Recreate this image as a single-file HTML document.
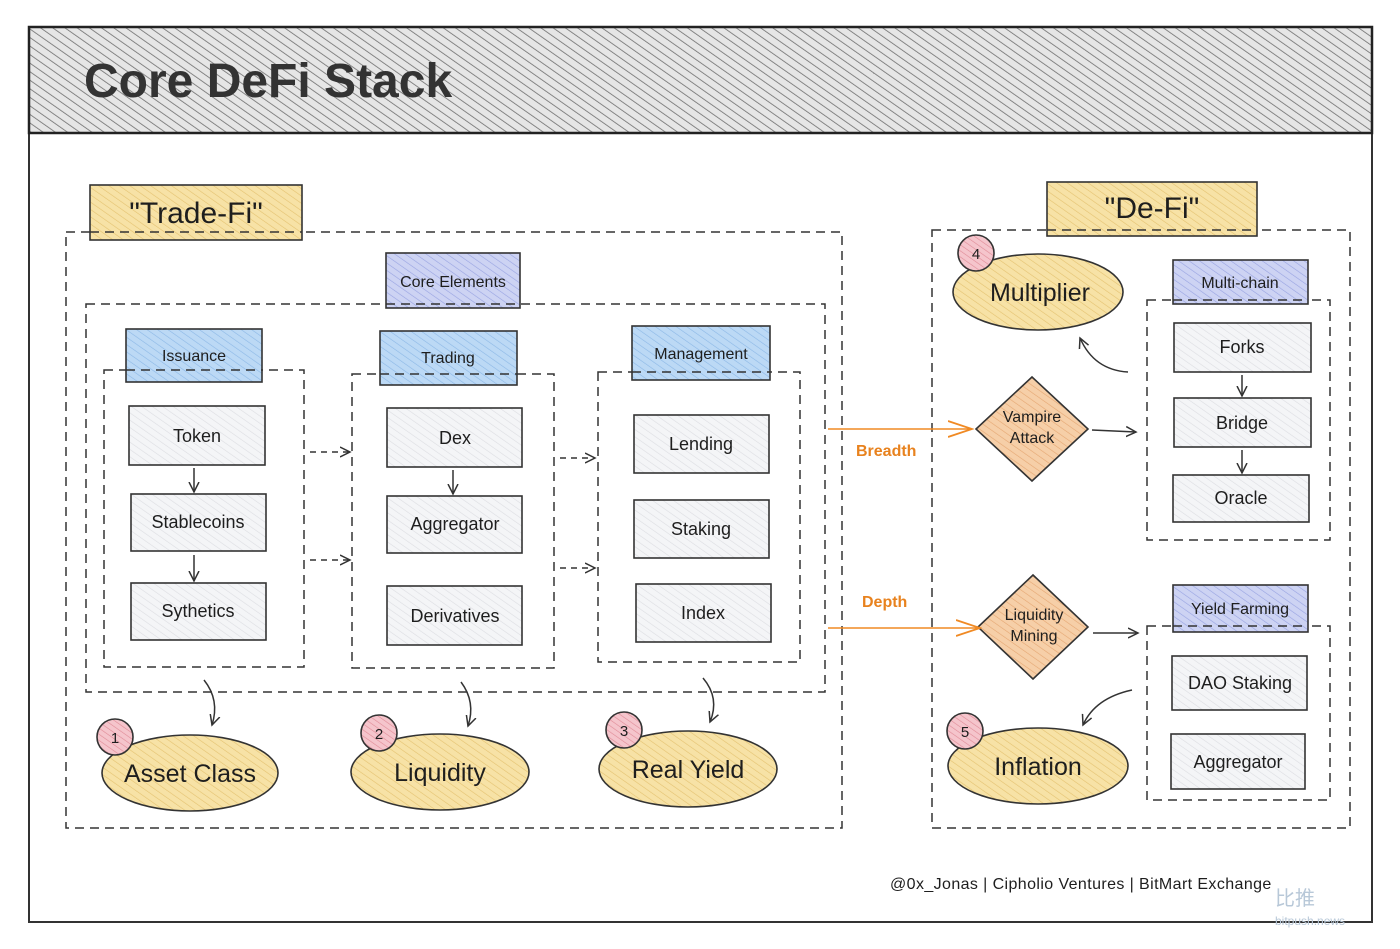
<!DOCTYPE html>
<html><head><meta charset="utf-8"><style>
html,body{margin:0;padding:0;background:#fff;}
svg{display:block;}
text{font-family:"Liberation Sans","DejaVu Sans",sans-serif;fill:#1e1e1e;}
</style></head><body>
<svg width="1400" height="949" viewBox="0 0 1400 949" xmlns="http://www.w3.org/2000/svg">
<defs>
<pattern id="hg" width="7" height="7" patternUnits="userSpaceOnUse" patternTransform="rotate(-55)"><rect width="7" height="7" fill="#e6e6e6"/><line x1="0" y1="0" x2="0" y2="7" stroke="#6e6e6e" stroke-width="1.6"/></pattern>
<pattern id="hy" width="6" height="6" patternUnits="userSpaceOnUse" patternTransform="rotate(-55)"><rect width="6" height="6" fill="#f7e2a6"/><line x1="0" y1="0" x2="0" y2="6" stroke="#e4c270" stroke-width="1.2"/></pattern>
<pattern id="hb" width="6" height="6" patternUnits="userSpaceOnUse" patternTransform="rotate(-55)"><rect width="6" height="6" fill="#bcd9f5"/><line x1="0" y1="0" x2="0" y2="6" stroke="#8cb8e6" stroke-width="1.2"/></pattern>
<pattern id="hp" width="6" height="6" patternUnits="userSpaceOnUse" patternTransform="rotate(-55)"><rect width="6" height="6" fill="#cdd3f3"/><line x1="0" y1="0" x2="0" y2="6" stroke="#98a3e2" stroke-width="1.2"/></pattern>
<pattern id="hl" width="6" height="6" patternUnits="userSpaceOnUse" patternTransform="rotate(-55)"><rect width="6" height="6" fill="#f4f5f7"/><line x1="0" y1="0" x2="0" y2="6" stroke="#dcdde2" stroke-width="1.2"/></pattern>
<pattern id="ho" width="6" height="6" patternUnits="userSpaceOnUse" patternTransform="rotate(-55)"><rect width="6" height="6" fill="#f6cfa8"/><line x1="0" y1="0" x2="0" y2="6" stroke="#e5a672" stroke-width="1.2"/></pattern>
<pattern id="hr" width="5" height="5" patternUnits="userSpaceOnUse" patternTransform="rotate(-55)"><rect width="5" height="5" fill="#f5c5cc"/><line x1="0" y1="0" x2="0" y2="5" stroke="#e08a96" stroke-width="1.2"/></pattern>
<marker id="ar" markerWidth="12" markerHeight="12" refX="10" refY="6" orient="auto" markerUnits="userSpaceOnUse"><path d="M0,1 L10,6 L0,11" fill="none" stroke="#333" stroke-width="1.5"/></marker>
<marker id="ao" markerWidth="26" markerHeight="20" refX="24" refY="10" orient="auto" markerUnits="userSpaceOnUse"><path d="M0,2 L24,10 L0,18" fill="none" stroke="#f08a24" stroke-width="1.8"/></marker>
</defs>

<rect x="29" y="27" width="1343" height="895" fill="#fff" stroke="#333" stroke-width="2"/>
<rect x="29" y="27" width="1343" height="106" fill="url(#hg)" stroke="#222" stroke-width="2.5"/>
<text x="84" y="97" font-size="48" font-weight="bold" fill="#333" style="fill:#333">Core DeFi Stack</text>

<g fill="none" stroke="#333" stroke-width="1.5" stroke-dasharray="9,6">
<rect x="66" y="232" width="776" height="596"/>
<rect x="86" y="304" width="739" height="388"/>
<rect x="104" y="370" width="200" height="297"/>
<rect x="352" y="374" width="202" height="294"/>
<rect x="598" y="372" width="202" height="290"/>
<rect x="932" y="230" width="418" height="598"/>
<rect x="1147" y="300" width="183" height="240"/>
<rect x="1147" y="626" width="183" height="174"/>
</g>

<g stroke="#333" stroke-width="1.6">
<rect x="90" y="185" width="212" height="55" fill="url(#hy)"/>
<rect x="1047" y="182" width="210" height="54" fill="url(#hy)"/>
<rect x="386" y="253" width="134" height="55" fill="url(#hp)"/>
<rect x="126" y="329" width="136" height="53" fill="url(#hb)"/>
<rect x="380" y="331" width="137" height="54" fill="url(#hb)"/>
<rect x="632" y="326" width="138" height="54" fill="url(#hb)"/>
<rect x="1173" y="260" width="135" height="44" fill="url(#hp)"/>
<rect x="1173" y="585" width="135" height="47" fill="url(#hp)"/>
<g fill="url(#hl)">
<rect x="129" y="406" width="136" height="59"/>
<rect x="131" y="494" width="135" height="57"/>
<rect x="131" y="583" width="135" height="57"/>
<rect x="387" y="408" width="135" height="59"/>
<rect x="387" y="496" width="135" height="57"/>
<rect x="387" y="586" width="135" height="59"/>
<rect x="634" y="415" width="135" height="58"/>
<rect x="634" y="500" width="135" height="58"/>
<rect x="636" y="584" width="135" height="58"/>
<rect x="1174" y="323" width="137" height="49"/>
<rect x="1174" y="398" width="137" height="49"/>
<rect x="1173" y="475" width="136" height="47"/>
<rect x="1172" y="656" width="135" height="54"/>
<rect x="1171" y="734" width="134" height="55"/>
</g>
<ellipse cx="190" cy="773" rx="88" ry="38" fill="url(#hy)"/>
<ellipse cx="440" cy="772" rx="89" ry="38" fill="url(#hy)"/>
<ellipse cx="688" cy="769" rx="89" ry="38" fill="url(#hy)"/>
<ellipse cx="1038" cy="292" rx="85" ry="38" fill="url(#hy)"/>
<ellipse cx="1038" cy="766" rx="90" ry="38" fill="url(#hy)"/>
<circle cx="115" cy="737" r="18" fill="url(#hr)"/>
<circle cx="379" cy="733" r="18" fill="url(#hr)"/>
<circle cx="624" cy="730" r="18" fill="url(#hr)"/>
<circle cx="976" cy="253" r="18" fill="url(#hr)"/>
<circle cx="965" cy="731" r="18" fill="url(#hr)"/>
<path d="M1032,377 L1088,429 L1032,481 L976,429 Z" fill="url(#ho)"/>
<path d="M1033,575 L1088,627 L1033,679 L978,627 Z" fill="url(#ho)"/>
</g>
<g stroke="#333" stroke-width="1.5" stroke-dasharray="9,6">
<line x1="90" y1="232" x2="302" y2="232"/><line x1="1047" y1="230" x2="1257" y2="230"/>
<line x1="386" y1="304" x2="520" y2="304"/><line x1="126" y1="370" x2="262" y2="370"/>
<line x1="380" y1="374" x2="517" y2="374"/><line x1="632" y1="372" x2="770" y2="372"/>
<line x1="1173" y1="300" x2="1308" y2="300"/><line x1="1173" y1="626" x2="1308" y2="626"/>
</g>

<g fill="none" stroke="#333" stroke-width="1.5" marker-end="url(#ar)">
<line x1="194" y1="468" x2="194" y2="492"/>
<line x1="194" y1="555" x2="194" y2="581"/>
<line x1="453" y1="470" x2="453" y2="494"/>
<line x1="1242" y1="375" x2="1242" y2="396"/>
<line x1="1242" y1="450" x2="1242" y2="473"/>
<line x1="310" y1="452" x2="350" y2="452" stroke-dasharray="6,5"/>
<line x1="310" y1="560" x2="350" y2="560" stroke-dasharray="6,5"/>
<line x1="560" y1="458" x2="595" y2="458" stroke-dasharray="6,5"/>
<line x1="560" y1="568" x2="595" y2="568" stroke-dasharray="6,5"/>
<path d="M204,680 Q220,700 212,725"/>
<path d="M461,682 Q476,702 468,726"/>
<path d="M703,678 Q720,698 710,722"/>
<line x1="1092" y1="430" x2="1136" y2="432"/>
<line x1="1093" y1="633" x2="1138" y2="633"/>
<path d="M1128,372 Q1094,370 1080,338"/>
<path d="M1132,690 Q1095,698 1083,725"/>
</g>
<line x1="828" y1="429" x2="972" y2="429" stroke="#f08a24" stroke-width="1.6" marker-end="url(#ao)"/>
<line x1="828" y1="628" x2="980" y2="628" stroke="#f08a24" stroke-width="1.6" marker-end="url(#ao)"/>
<text x="856" y="456" font-size="16" font-weight="bold" style="fill:#e8821e">Breadth</text>
<text x="862" y="607" font-size="16" font-weight="bold" style="fill:#e8821e">Depth</text>

<g font-size="18" text-anchor="middle">
<text x="196" y="223" font-size="30">"Trade-Fi"</text>
<text x="1152" y="218" font-size="30">"De-Fi"</text>
<text x="453" y="287" font-size="16">Core Elements</text>
<text x="194" y="361" font-size="16">Issuance</text>
<text x="448" y="363" font-size="16">Trading</text>
<text x="701" y="359" font-size="16">Management</text>
<text x="1240" y="288" font-size="16">Multi-chain</text>
<text x="1240" y="614" font-size="16">Yield Farming</text>
<text x="197" y="442">Token</text>
<text x="198" y="528">Stablecoins</text>
<text x="198" y="617">Sythetics</text>
<text x="455" y="444">Dex</text>
<text x="455" y="530">Aggregator</text>
<text x="455" y="622">Derivatives</text>
<text x="701" y="450">Lending</text>
<text x="701" y="535">Staking</text>
<text x="703" y="619">Index</text>
<text x="1242" y="353">Forks</text>
<text x="1242" y="429">Bridge</text>
<text x="1241" y="504">Oracle</text>
<text x="1240" y="689">DAO Staking</text>
<text x="1238" y="768">Aggregator</text>
<text x="1032" y="422" font-size="16">Vampire</text>
<text x="1032" y="443" font-size="16">Attack</text>
<text x="1034" y="620" font-size="16">Liquidity</text>
<text x="1034" y="641" font-size="16">Mining</text>
<text x="190" y="782" font-size="25">Asset Class</text>
<text x="440" y="781" font-size="25">Liquidity</text>
<text x="688" y="778" font-size="25">Real Yield</text>
<text x="1040" y="301" font-size="25">Multiplier</text>
<text x="1038" y="775" font-size="25">Inflation</text>
<text x="115" y="743" font-size="15">1</text>
<text x="379" y="739" font-size="15">2</text>
<text x="624" y="736" font-size="15">3</text>
<text x="976" y="259" font-size="15">4</text>
<text x="965" y="737" font-size="15">5</text>
</g>
<text x="890" y="889" font-size="16" letter-spacing="0.4">@0x_Jonas | Cipholio Ventures | BitMart Exchange</text>
<text x="1275" y="905" font-size="20" style="fill:#b8c8d8">比推</text>
<text x="1275" y="925" font-size="12" style="fill:#b8c8d8">bitpush.news</text>
</svg>
</body></html>
